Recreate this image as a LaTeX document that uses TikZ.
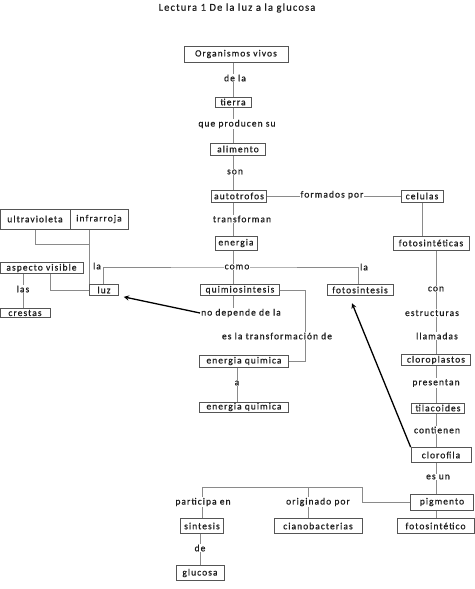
\documentclass[tikz,border=0pt]{standalone}
\usepackage{fontspec}
\setmainfont[LetterSpace=11,FakeBold=0.6]{Carlito}
\usetikzlibrary{calc,backgrounds}
\definecolor{txt}{HTML}{1E1E1E}
\definecolor{bord}{HTML}{555555}
\definecolor{lin}{HTML}{8A8A8A}
\tikzset{
  bx/.style={draw=bord,line width=0.7pt,fill=white,inner sep=0pt,font=\fontsize{9.5}{10}\selectfont,text=txt},
  lb/.style={fill=white,inner sep=1pt,font=\fontsize{9.5}{10}\selectfont,text=txt},
  ln/.style={draw=lin,line width=0.7pt},
  arr/.style={draw=black,line width=1.3pt,-stealth},
}
\begin{document}
\begin{tikzpicture}[x=1pt,y=-1pt]
\useasboundingbox (0,0) rectangle (474,589);
% title
\node[font=\fontsize{10.5}{11}\selectfont,text=txt] (title) at (237,8) {Lectura 1 De la luz a la glucosa};
% central column
\node[bx,minimum width=104,minimum height=16] (org) at (236,54) {Organismos vivos};
\node[lb] (dela) at (235,78) {de la};
\node[bx,minimum width=36,minimum height=10] (tierra) at (233,102) {tierra};
\node[lb] (qps) at (237,124) {que producen su};
\node[bx,minimum width=55,minimum height=12] (alim) at (238,149) {alimento};
\node[lb] (son) at (235,172) {son};
\node[bx,minimum width=55,minimum height=12] (auto) at (239,196) {autotrofos};
\node[lb] (formados) at (332,195) {formados por};
\node[bx,minimum width=42,minimum height=12] (cel) at (422,196) {celulas};
\node[lb] (transf) at (242,219) {transforman};
\node[bx,minimum width=42,minimum height=14] (energia) at (236,243) {energia};
\node[bx,minimum width=76,minimum height=14] (fotet) at (431,243) {fotosintéticas};
\node[lb] (como) at (237,267) {como};
\node[lb] (la1) at (364,267) {la};
\node[bx,minimum width=66,minimum height=11] (fotos) at (360,290) {fotosintesis};
\node[bx,minimum width=79,minimum height=11] (quim) at (240,290) {quimiosintesis};
\node[lb] (nodep) at (241,313) {no depende de la};
\node[lb] (esla) at (277,336) {es la transformación de};
\node[bx,minimum width=89,minimum height=12] (eq1) at (244,361) {energia quimica};
\node[lb] (a) at (237,383) {a};
\node[bx,minimum width=89,minimum height=10] (eq2) at (244,407) {energia quimica};
% left cluster
\node[bx,minimum width=70,minimum height=20] (ultra) at (35,219) {ultravioleta};
\node[bx,minimum width=58,minimum height=20] (infra) at (99,219) {infrarroja};
\node[lb] (la2) at (97,266) {la};
\node[bx,minimum width=83,minimum height=11] (asp) at (41.5,268) {aspecto visible};
\node[lb] (las) at (23,289) {las};
\node[bx,minimum width=50,minimum height=9] (crest) at (25,313) {crestas};
\node[bx,minimum width=29,minimum height=11] (luz) at (104,290) {luz};
% right column
\node[lb] (con) at (436,289) {con};
\node[lb] (estr) at (432,313) {estructuras};
\node[lb] (llam) at (437,336) {llamadas};
\node[bx,minimum width=69,minimum height=11] (clorop) at (436,360) {cloroplastos};
\node[lb] (pres) at (436,383) {presentan};
\node[bx,minimum width=53,minimum height=10] (tila) at (438,408) {tilacoides};
\node[lb] (cont) at (437,430) {contienen};
\node[bx,minimum width=60,minimum height=15] (cloro) at (441,455) {clorofila};
\node[lb] (esun) at (438,477) {es un};
\node[bx,minimum width=63,minimum height=16] (pig) at (442,502) {pigmento};
\node[bx,minimum width=77,minimum height=15] (fotico) at (435.5,526) {fotosintético};
% bottom
\node[lb] (part) at (203,502) {participa en};
\node[lb] (orig) at (318,502) {originado por};
\node[bx,minimum width=43,minimum height=15] (sint) at (202,526) {sintesis};
\node[bx,minimum width=88,minimum height=15] (ciano) at (318,526) {cianobacterias};
\node[lb] (de) at (200,548) {de};
\node[bx,minimum width=48,minimum height=15] (gluc) at (200,573) {glucosa};
% helper corners
\coordinate (k1) at (362,487);
\coordinate (k2) at (308,487);
\coordinate (k3) at (305,361);
\coordinate (k5) at (89,244);
\coordinate (k6) at (50,274);
\begin{scope}[on background layer]
\draw[ln] (org.south -| tierra) -- (tierra.north);
\draw[ln] (tierra.south) -- (tierra |- alim.north);
\draw[ln] (tierra |- alim.south) -- (tierra |- auto.north);
\draw[ln] (tierra |- auto.south) -- (tierra |- energia.north);
\draw[ln] (tierra |- energia.south) -- (tierra |- quim.north);
\draw[ln] (tierra |- quim.south) -- (tierra |- nodep.north);
\draw[ln] (auto.east) -- (cel.west);
\draw[ln] (cel.south) -- (cel |- fotet.north);
\draw[ln] (con |- fotet.south) -- (con |- pig.north);
\draw[ln] (con |- pig.south) -- (con |- fotico.north);
\draw[ln] (pig.west) -| (k1) -| (sint.north);
\draw[ln] (k2) -- (k2 |- ciano.north);
\draw[ln] (sint.south -| de) -- (de |- gluc.north);
\draw[ln] (eq1.south -| a) -- (a |- eq2.north);
\draw[ln] (quim.east) -| (k3) -- (eq1.east);
\draw[ln] ($(luz.north)+(-1,0)$) |- (como.center) -| ($(fotos.north)+(-2,0)$);
\draw[ln] (infra.south -| luz.west) -- (luz.north west);
\draw[ln] (ultra.south) |- (k5);
\draw[ln] (k6) |- (luz.west);
\draw[ln] (las |- asp.south) -- (las |- crest.north);
\end{scope}
\draw[arr,shorten >=5pt] (nodep.west) -- (luz.south east);
\draw[arr,shorten >=8pt] (cloro.north west) -- ($(fotos.south)+(-11,0)$);
\end{tikzpicture}
\end{document}
